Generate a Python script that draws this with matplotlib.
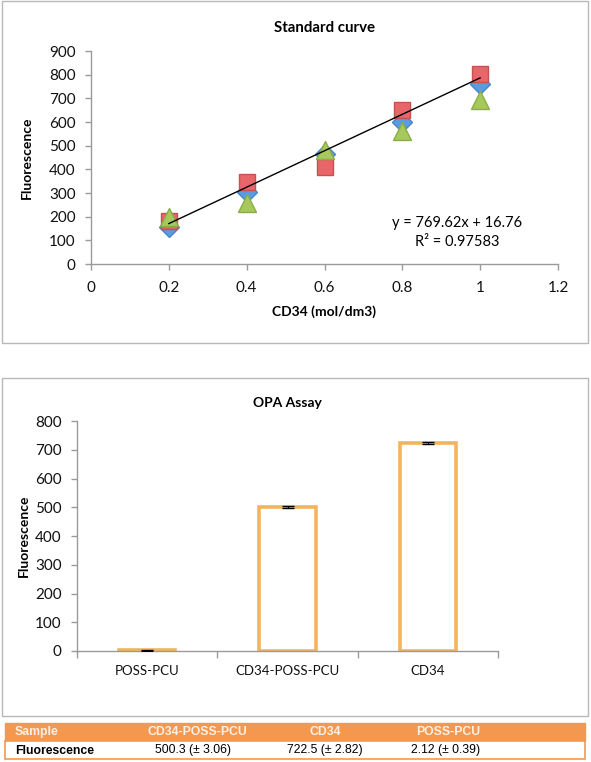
import matplotlib
matplotlib.use("Agg")
import matplotlib.pyplot as plt
from matplotlib.patches import Rectangle
import numpy as np

plt.rcParams['font.family'] = ['Lato', 'DejaVu Sans']

# ---------------- data ----------------
conc = [0.2, 0.4, 0.6, 0.8, 1.0]
series_blue = [158, 305, 465, 600, 762]
series_red = [180, 347, 410, 650, 802]
series_green = [200, 258, 480, 560, 695]
fit_slope = 769.62
fit_intercept = 16.76
fit_r2 = 0.97583

samples = ["POSS-PCU", "CD34-POSS-PCU", "CD34"]
fluor = [2.12, 500.3, 722.5]
fluor_err = [0.39, 3.06, 2.82]

table_header = ["Sample", "CD34-POSS-PCU", "CD34", "POSS-PCU"]
table_row = ["Fluorescence", "500.3 (\u00b1 3.06)", "722.5 (\u00b1 2.82)", "2.12 (\u00b1 0.39)"]

W, H = 591, 762
fig = plt.figure(figsize=(W / 100, H / 100), dpi=100)


def ax_px(left, top, right, bottom):
    return fig.add_axes([left / W, 1 - bottom / H, (right - left) / W, (bottom - top) / H])


def box_px(left, top, right, bottom, **kw):
    r = Rectangle((left / W, 1 - bottom / H), (right - left) / W, (bottom - top) / H,
                  transform=fig.transFigure, **kw)
    fig.add_artist(r)


spine_c = '#9a9a9a'
# panel borders
box_px(2, 1, 588, 343, fill=False, edgecolor='#b8b8b8', lw=1.0)
box_px(2, 378, 588, 716, fill=False, edgecolor='#b8b8b8', lw=1.0)


def style_axes(ax):
    for s in ['top', 'right']:
        ax.spines[s].set_visible(False)
    for s in ['left', 'bottom']:
        ax.spines[s].set_color(spine_c)
        ax.spines[s].set_linewidth(1.0)
    ax.tick_params(direction='out', length=4, width=1, color=spine_c, labelsize=11,
                   labelcolor='#111111')
    ax.tick_params(axis='y', pad=7)


# ---------------- top: standard curve ----------------
ax1 = ax_px(91, 51, 558, 264)
style_axes(ax1)
ax1.plot(conc, series_blue, linestyle='none', marker='D', markersize=10,
         color='#5b9be0', markeredgecolor='#4a86c8', zorder=3)
ax1.plot(conc, series_red, linestyle='none', marker='s', markersize=11.5,
         color='#e8666a', markeredgecolor='#c85050', zorder=4)
ax1.plot(conc, series_green, linestyle='none', marker='^', markersize=12.5,
         color='#a6c85c', markeredgecolor='#8aae45', zorder=5)
xf = np.array([conc[0], conc[-1]])
ax1.plot(xf, fit_slope * xf + fit_intercept, color='black', lw=1.0, zorder=6)
ax1.set_xlim(0, 1.2)
ax1.set_ylim(0, 900)
ax1.set_xticks([0, 0.2, 0.4, 0.6, 0.8, 1.0, 1.2])
ax1.set_xticklabels(['0', '0.2', '0.4', '0.6', '0.8', '1', '1.2'])
ax1.set_yticks(range(0, 901, 100))
ax1.tick_params(axis='x', pad=8)
ax1.set_title('Standard curve', fontsize=10.8, fontweight='bold', pad=14)
ax1.set_xlabel('CD34 (mol/dm3)', fontsize=10, fontweight='bold', labelpad=8)
ax1.set_ylabel('Fluorescence', fontsize=10, fontweight='bold', labelpad=12)
ax1.text(0.94, 173, f'y = {fit_slope}x + {fit_intercept}', ha='center', va='center', fontsize=10.5)
ax1.text(0.94, 93, f'R\u00b2 = {fit_r2}', ha='center', va='center', fontsize=10.5)

# ---------------- bottom: OPA assay ----------------
ax2 = ax_px(77, 421, 498, 651)
style_axes(ax2)
xpos = np.arange(len(samples))
ax2.bar(xpos, fluor, width=0.4, color='white', edgecolor='#f5b35a', linewidth=2.6, zorder=2)
ax2.errorbar(xpos, fluor, yerr=fluor_err, fmt='none', ecolor='black', elinewidth=0.8,
             capsize=4, capthick=1.0, zorder=3)
ax2.set_xlim(-0.5, len(samples) - 0.5)
ax2.set_ylim(0, 800)
ax2.set_yticks(range(0, 801, 100))
ax2.set_xticks(xpos)
ax2.set_xticklabels(samples, fontsize=9.5)
ax2.set_xticks(np.arange(-0.5, len(samples), 1.0), minor=True)
ax2.tick_params(axis='x', which='major', length=0, pad=10)
ax2.tick_params(axis='x', which='minor', direction='out', length=5, width=1, color=spine_c)
ax2.set_title('OPA Assay', fontsize=10, fontweight='bold', pad=10)
ax2.set_ylabel('Fluorescence', fontsize=10, fontweight='bold', labelpad=4)

# ---------------- table ----------------
orange = '#f3984e'
box_px(5, 723, 585, 741, facecolor=orange, edgecolor=orange, lw=1.0)
box_px(5, 741, 585, 759, facecolor='white', edgecolor=orange, lw=1.2)
col_x = [15, 197, 325, 448]
col_ha = ['left', 'center', 'center', 'center']
for txt, x, ha in zip(table_header, col_x, col_ha):
    fig.text(x / W, 1 - 732 / H, txt, ha=ha, va='center', color='#fdf0e6', fontsize=8.8,
             fontweight='bold', family=['Liberation Sans', 'DejaVu Sans'])
row_x = [15, 193, 325, 446]
for i, (txt, x, ha) in enumerate(zip(table_row, row_x, col_ha)):
    fig.text(x / W, 1 - 750.5 / H, txt, ha=ha, va='center', color='black', fontsize=8.8,
             fontweight='bold' if i == 0 else 'normal', family=['Liberation Sans', 'DejaVu Sans'])

fig.savefig('out.png', dpi=100)
